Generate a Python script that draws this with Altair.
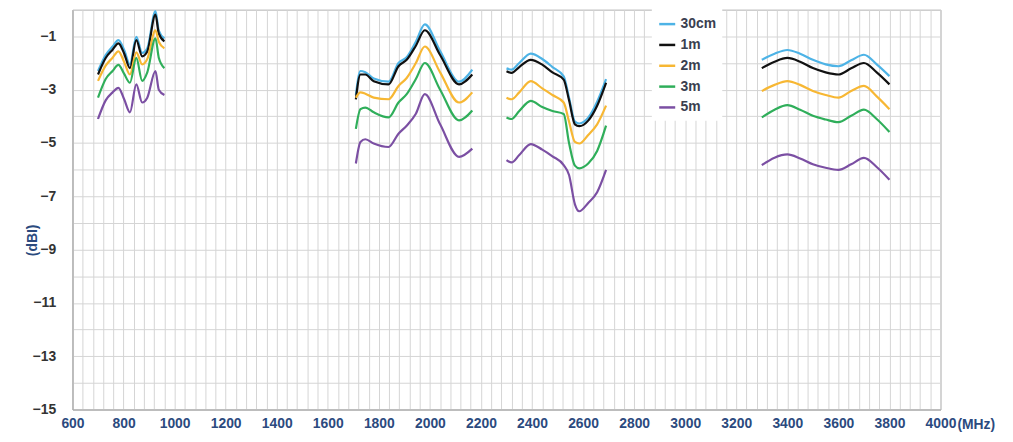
import altair as alt
import pandas as pd

series = ["30cm", "1m", "2m", "3m", "5m"]
colors = ["#4db3e6", "#111111", "#f7b733", "#2fae5a", "#7b4fa3"]

# Band 1 (700-960 MHz)
f1 = [700, 730, 757, 780, 802, 825, 850, 873, 893, 925, 938, 960]
b1 = {
    "30cm": [-2.3, -1.7, -1.38, -1.14, -1.5, -2.05, -1.02, -1.62, -1.45, -0.05, -0.78, -1.08],
    "1m":   [-2.43, -1.81, -1.5, -1.26, -1.63, -2.19, -1.14, -1.75, -1.57, -0.18, -0.89, -1.19],
    "2m":   [-2.67, -2.1, -1.8, -1.56, -1.95, -2.43, -1.6, -2.05, -1.85, -0.77, -1.2, -1.45],
    "3m":   [-3.3, -2.6, -2.3, -2.07, -2.4, -2.74, -1.81, -2.67, -2.35, -1.07, -1.8, -2.19],
    "5m":   [-4.1, -3.4, -3.1, -2.93, -3.35, -3.85, -2.8, -3.48, -3.3, -2.3, -3.0, -3.2],
}

# Band 2 (1710-2170 MHz)
f2 = [1710, 1728, 1747, 1780, 1838, 1877, 1909, 1945, 1980, 2040, 2114, 2166]
b2 = {
    "30cm": [-3.2, -2.3, -2.35, -2.58, -2.7, -2.0, -1.78, -1.2, -0.55, -1.55, -2.7, -2.25],
    "1m":   [-3.36, -2.43, -2.43, -2.68, -2.8, -2.12, -1.88, -1.35, -0.77, -1.7, -2.8, -2.43],
    "2m":   [-3.3, -3.1, -3.15, -3.3, -3.36, -2.86, -2.56, -2.0, -1.38, -2.35, -3.48, -3.1],
    "3m":   [-4.47, -3.73, -3.67, -3.85, -4.04, -3.48, -3.17, -2.6, -2.0, -3.0, -4.15, -3.78],
    "5m":   [-5.77, -4.96, -4.86, -5.02, -5.15, -4.65, -4.35, -3.9, -3.17, -4.3, -5.52, -5.21],
}

# Band 3 (2300-2690 MHz)
f3 = [2300, 2320, 2350, 2395, 2440, 2480, 2524, 2545, 2568, 2585, 2620, 2655, 2690]
b3 = {
    "30cm": [-2.2, -2.25, -2.0, -1.65, -1.85, -2.15, -2.5, -3.3, -4.2, -4.27, -4.05, -3.45, -2.6],
    "1m":   [-2.31, -2.37, -2.15, -1.88, -2.06, -2.35, -2.62, -3.4, -4.3, -4.37, -4.16, -3.6, -2.74],
    "2m":   [-3.3, -3.36, -3.1, -2.68, -2.95, -3.2, -3.48, -4.2, -4.96, -5.02, -4.7, -4.3, -3.6],
    "3m":   [-4.04, -4.1, -3.8, -3.42, -3.65, -3.8, -3.91, -5.0, -5.85, -5.95, -5.77, -5.3, -4.35],
    "5m":   [-5.64, -5.73, -5.45, -5.04, -5.25, -5.5, -5.83, -6.2, -7.3, -7.56, -7.25, -6.85, -6.01],
}

# Band 4 (3300-3800 MHz)
f4 = [3300, 3350, 3400, 3450, 3500, 3550, 3600, 3650, 3700, 3750, 3800]
b4 = {
    "30cm": [-1.88, -1.65, -1.51, -1.65, -1.88, -2.05, -2.12, -1.9, -1.69, -2.05, -2.49],
    "1m":   [-2.19, -1.95, -1.81, -1.95, -2.19, -2.35, -2.43, -2.2, -2.0, -2.35, -2.8],
    "2m":   [-3.05, -2.82, -2.68, -2.82, -3.05, -3.2, -3.3, -3.05, -2.86, -3.25, -3.73],
    "3m":   [-4.04, -3.75, -3.58, -3.75, -3.98, -4.12, -4.22, -3.98, -3.75, -4.1, -4.59],
    "5m":   [-5.83, -5.55, -5.43, -5.58, -5.8, -5.93, -6.01, -5.8, -5.56, -5.9, -6.38],
}

x_ticks = list(range(600, 4001, 40))
y_ticks = list(range(-15, 1))

rows = []
for band_id, (freqs, band) in enumerate([(f1, b1), (f2, b2), (f3, b3), (f4, b4)]):
    for s_i, s in enumerate(series):
        for f, v in zip(freqs, band[s]):
            rows.append({"freq": f, "gain": v, "series": s, "order": s_i,
                         "grp": f"{s_i}-{band_id}"})
df = pd.DataFrame(rows)

W, H = 875, 403
navy = "#2b4a7e"
font = "Liberation Sans"

lines = alt.Chart(df).mark_line(strokeWidth=2.2, interpolate="monotone").encode(
    x=alt.X("freq:Q", scale=alt.Scale(domain=[600, 4000], nice=False),
            axis=alt.Axis(values=x_ticks, tickCount=200, grid=True, ticks=False,
                          labelExpr="datum.value % 200 == 0 ? datum.label : ''",
                          format="d", labelOverlap=False, labelFlush=False,
                          labelPadding=7, labelFontSize=14, labelFontWeight="bold",
                          labelColor=navy, title=None)),
    y=alt.Y("gain:Q", scale=alt.Scale(domain=[-15, 0], nice=False),
            axis=alt.Axis(values=y_ticks, tickCount=100, grid=True, ticks=False,
                          format="d",
                          labelExpr="datum.value % 2 != 0 ? datum.label : ''",
                          labelOverlap=False, labelFlush=False,
                          labelPadding=17, labelFontSize=14, labelFontWeight="bold",
                          labelColor="#333333", title="(dBI)",
                          titleColor=navy, titleFontSize=14, titleFontWeight="bold",
                          titleX=-40, titleY=232, titleAngle=-90,
                          titleBaseline="middle", titleAlign="center")),
    color=alt.Color("series:N", scale=alt.Scale(domain=series, range=colors),
                    legend=alt.Legend(title=None, orient="none", legendX=584, legendY=-1,
                                      fillColor="white", padding=6, rowPadding=4,
                                      symbolType="stroke", symbolSize=260,
                                      symbolStrokeWidth=2.5, labelFontSize=14,
                                      labelFontWeight="bold", labelColor="#3a4050",
                                      labelFont=font)),
    detail="grp:N",
    order="order:Q",
)

unit = alt.Chart(pd.DataFrame({"freq": [4000], "t": ["(MHz)"]})).mark_text(
    align="left", baseline="middle", dx=17, fontSize=14, fontWeight="bold",
    color=navy, font=font
).encode(x="freq:Q", y=alt.value(H + 16), text="t:N")

chart = alt.layer(lines, unit).properties(
    width=W, height=H,
    autosize=alt.AutoSizeParams(type="none"),
    padding={"left": 65, "top": 0, "right": 65, "bottom": 30},
).configure_view(stroke="#a6a6a6", strokeWidth=1).configure_axis(
    gridColor="#d4d4d4", gridWidth=1, domainColor="#a6a6a6",
    labelFont=font, titleFont=font
)

chart.save("out.html", embed_options={"renderer": "svg", "actions": False})
